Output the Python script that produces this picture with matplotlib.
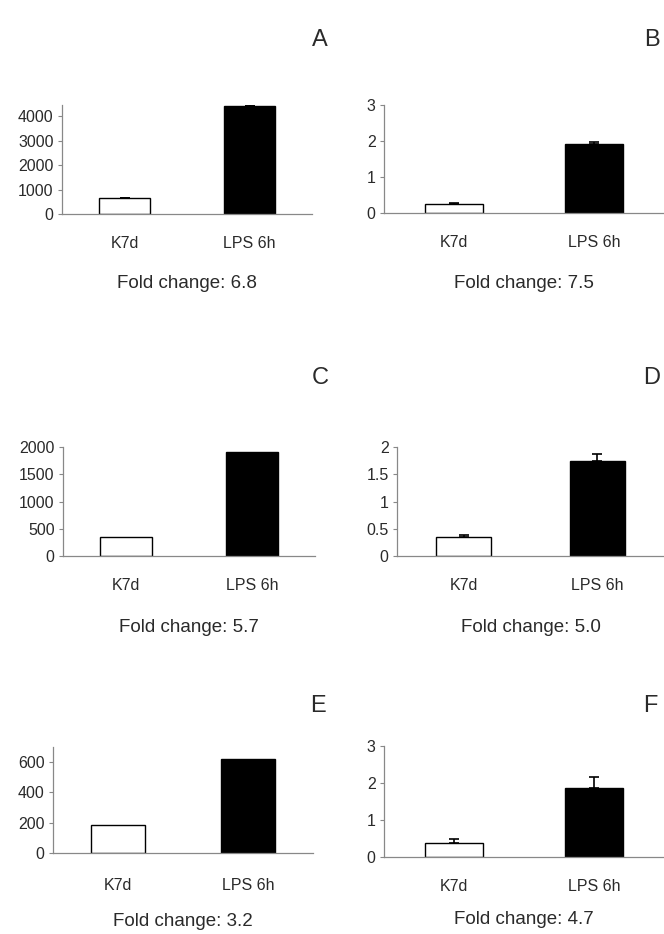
import matplotlib
matplotlib.use('Agg')
import matplotlib.pyplot as plt

plt.rcParams['font.family'] = ['Liberation Sans', 'DejaVu Sans']

categories = ['K7d', 'LPS 6h']
panel_letters = ['A', 'B', 'C', 'D', 'E', 'F']

# mean values, one entry per panel (A..F)
k7d_means = [640, 0.24, 343, 0.34, 188, 0.37]
lps_means = [4410, 1.91, 1910, 1.75, 624, 1.86]
k7d_err = [20, 0.05, 0, 0.04, 0, 0.11]
lps_err = [30, 0.07, 0, 0.13, 0, 0.31]
fold_changes = ['6.8', '7.5', '5.7', '5.0', '3.2', '4.7']

y_ticks = [[0, 1000, 2000, 3000, 4000],
           [0, 1, 2, 3],
           [0, 500, 1000, 1500, 2000],
           [0, 0.5, 1, 1.5, 2],
           [0, 200, 400, 600],
           [0, 1, 2, 3]]
y_tick_labels = [['0', '1000', '2000', '3000', '4000'],
                 ['0', '1', '2', '3'],
                 ['0', '500', '1000', '1500', '2000'],
                 ['0', '0.5', '1', '1.5', '2'],
                 ['0', '200', '400', '600'],
                 ['0', '1', '2', '3']]
y_max = [4450, 3, 2000, 2, 700, 3]

W, H = 664, 934
fig = plt.figure(figsize=(W / 100, H / 100), dpi=100)

# axes boxes in pixels: left, right, top, bottom
boxes = [(62, 312, 105, 214), (384, 664, 105, 213),
         (63, 315, 447, 556), (397, 664, 447, 556),
         (53, 313, 747, 853), (384, 664, 746, 857)]
letter_pos = [(320, 40), (652, 40), (320, 378), (652, 378), (318, 706), (650, 706)]
fold_offset = [70, 70, 71, 71, 69, 63]
label_pad = [16, 16, 16, 16, 18, 16]

for i in range(6):
    l, r, t, b = boxes[i]
    ax = fig.add_axes([l / W, (H - b) / H, (r - l) / W, (b - t) / H])
    x = [0, 1]
    ax.bar(x, [k7d_means[i], lps_means[i]], width=0.41,
           color=['white', 'black'], edgecolor='black', linewidth=1.0, zorder=2)
    if k7d_err[i] > 0 or lps_err[i] > 0:
        ax.errorbar(x, [k7d_means[i], lps_means[i]],
                    yerr=[[0, 0], [k7d_err[i], lps_err[i]]],
                    fmt='none', ecolor='black', elinewidth=1.2, capsize=3.5,
                    capthick=1.2, zorder=3)
    ax.set_xlim(-0.5, 1.5)
    ax.set_ylim(0, y_max[i])
    ax.set_yticks(y_ticks[i])
    ax.set_yticklabels(y_tick_labels[i], fontsize=11.5, color='#2a2a2a')
    ax.set_xticks(x)
    ax.set_xticklabels(categories, fontsize=11.5, color='#2a2a2a')
    ax.tick_params(axis='x', length=0, pad=label_pad[i])
    ax.tick_params(axis='y', length=3, width=0.8, color='#888888', pad=3)
    for s in ['top', 'right']:
        ax.spines[s].set_visible(False)
    for s in ['left', 'bottom']:
        ax.spines[s].set_color('#888888')
        ax.spines[s].set_linewidth(0.9)
    ax.annotate('Fold change: ' + fold_changes[i], xy=(0.5, 0),
                xycoords=('data', 'axes fraction'), xytext=(0, -fold_offset[i]),
                textcoords='offset pixels', ha='center', va='center',
                fontsize=13.5, color='#2a2a2a', annotation_clip=False)
    lx, ly = letter_pos[i]
    fig.text(lx / W, 1 - ly / H, panel_letters[i], ha='center', va='center',
             fontsize=17, color='#2a2a2a')

fig.savefig('out.png', dpi=100)
